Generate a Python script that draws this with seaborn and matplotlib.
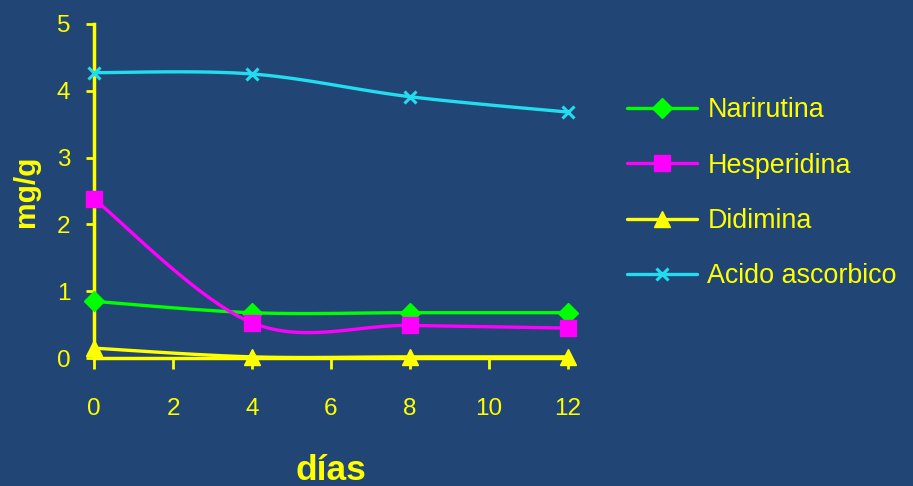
import numpy as np
import pandas as pd
import seaborn as sns
import matplotlib
matplotlib.use("Agg")
import matplotlib.pyplot as plt
from matplotlib.lines import Line2D

# Sampling days and measured contents (mg/g)
dias = [0, 4, 8, 12]
narirutina = [0.85, 0.68, 0.68, 0.68]
hesperidina = [2.38, 0.53, 0.49, 0.45]
didimina = [0.15, 0.02, 0.02, 0.02]
acido_ascorbico = [4.27, 4.25, 3.91, 3.68]

series_names = ["Narirutina", "Hesperidina", "Didimina", "Acido ascorbico"]
series_values = [narirutina, hesperidina, didimina, acido_ascorbico]
colors = ["#00FF00", "#FF00FF", "#FFFF00", "#22DDF0"]
markers = ["D", "s", "^", "x"]
msizes = [10, 12, 12, 9]

BG = "#214575"
FG = "#FFFF00"

sns.set_theme(style="white")
plt.rcParams["font.family"] = ["Liberation Sans", "DejaVu Sans"]


def smooth_curve(xs, ys, n=40):
    """Cardinal-spline smoothing (Bezier segments through every point)."""
    P = np.column_stack([xs, ys]).astype(float)
    out = []
    for i in range(len(P) - 1):
        p0 = P[i - 1] if i > 0 else P[i]
        p1, p2 = P[i], P[i + 1]
        p3 = P[i + 2] if i + 2 < len(P) else P[i + 1]
        c1 = p1 + (p2 - p0) / 6.0
        c2 = p2 - (p3 - p1) / 6.0
        t = np.linspace(0, 1, n)[:, None]
        seg = ((1 - t) ** 3) * p1 + 3 * ((1 - t) ** 2) * t * c1 \
            + 3 * (1 - t) * t ** 2 * c2 + t ** 3 * p2
        out.append(seg if i == 0 else seg[1:])
    return np.vstack(out)


curve_rows = []
point_rows = []
for name, vals in zip(series_names, series_values):
    for x, y in smooth_curve(dias, vals):
        curve_rows.append({"dia": x, "valor": y, "serie": name})
    for x, y in zip(dias, vals):
        point_rows.append({"dia": x, "valor": y, "serie": name})
curves = pd.DataFrame(curve_rows)
points = pd.DataFrame(point_rows)

fig = plt.figure(figsize=(9.13, 4.86), dpi=100, facecolor=BG)
ax = fig.add_axes([0.103, 0.263, 0.519, 0.688])
ax.set_facecolor(BG)

palette = dict(zip(series_names, colors))
sns.lineplot(data=curves, x="dia", y="valor", hue="serie", palette=palette,
             hue_order=series_names, linewidth=2.4, sort=False,
             estimator=None, legend=False, ax=ax, zorder=3)

for name, m, ms, col in zip(series_names, markers, msizes, colors):
    sub = points[points["serie"] == name]
    ax.plot(sub["dia"], sub["valor"], linestyle="none", marker=m,
            markersize=ms, color=col, markeredgecolor=col,
            markeredgewidth=2.2 if m == "x" else 1, zorder=4, clip_on=False)

ax.set_xlim(0, 12)
ax.set_ylim(0, 5)
ax.set_xticks([0, 2, 4, 6, 8, 10, 12])
ax.set_yticks([0, 1, 2, 3, 4, 5])

for s in ["top", "right"]:
    ax.spines[s].set_visible(False)
for s in ["left", "bottom"]:
    ax.spines[s].set_color(FG)
    ax.spines[s].set_linewidth(2.5)
ax.tick_params(axis="both", bottom=True, left=True, colors=FG,
               labelcolor=FG, labelsize=17.5, width=2, direction="out")
ax.tick_params(axis="x", length=8, pad=21)
ax.tick_params(axis="y", length=6, pad=11)
ax.grid(False)

ax.set_xlabel("días", color=FG, fontsize=25.5, fontweight="bold")
ax.xaxis.set_label_coords(0.5, -0.287)
ax.set_ylabel("mg/g", color=FG, fontsize=21.5, fontweight="bold")
ax.yaxis.set_label_coords(-0.114, 0.5)

handles = [Line2D([0], [0], color=c, lw=2.4, marker=m, markersize=ms,
                  markeredgecolor=c, markeredgewidth=2.2 if m == "x" else 1)
           for c, m, ms in zip(colors, markers, msizes)]
leg = fig.legend(handles, series_names, loc="upper left",
                 bbox_to_anchor=(0.687, 0.80), frameon=False,
                 fontsize=19.4, handlelength=2.6, handletextpad=0.37,
                 labelspacing=1.09, borderpad=0, borderaxespad=0)
for t in leg.get_texts():
    t.set_color(FG)

fig.savefig("out.png", dpi=100, facecolor=BG)
